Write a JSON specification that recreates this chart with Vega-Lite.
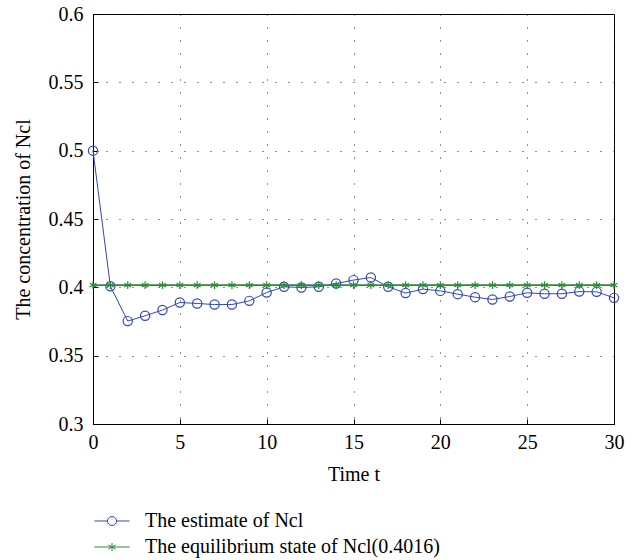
{
  "$schema": "https://vega.github.io/schema/vega-lite/v6.json",
  "width": 521,
  "height": 410,
  "autosize": "none",
  "padding": {"left": 93, "top": 14, "right": 29, "bottom": 136},
  "background": "white",
  "config": {
    "view": {"stroke": "black", "strokeWidth": 1},
    "font": "Liberation Serif",
    "axis": {
      "labelFont": "Liberation Serif",
      "titleFont": "Liberation Serif",
      "labelFontSize": 20,
      "titleFontSize": 20,
      "titleFontWeight": "normal",
      "labelColor": "black",
      "titleColor": "black",
      "domainColor": "black",
      "grid": true,
      "gridColor": "#222",
      "gridDash": [1, 12],
      "gridWidth": 1,
      "ticks": true,
      "tickColor": "black",
      "tickSize": -5
    },
    "legend": {
      "labelFont": "Liberation Serif",
      "labelFontSize": 20,
      "labelColor": "black",
      "labelLimit": 0
    }
  },
  "data": {
    "values": [
      {"t": 0, "v": 0.5, "s": "est"},
      {"t": 1, "v": 0.4008, "s": "est"},
      {"t": 2, "v": 0.3753, "s": "est"},
      {"t": 3, "v": 0.3792, "s": "est"},
      {"t": 4, "v": 0.3834, "s": "est"},
      {"t": 5, "v": 0.3889, "s": "est"},
      {"t": 6, "v": 0.3882, "s": "est"},
      {"t": 7, "v": 0.3874, "s": "est"},
      {"t": 8, "v": 0.3874, "s": "est"},
      {"t": 9, "v": 0.3901, "s": "est"},
      {"t": 10, "v": 0.3962, "s": "est"},
      {"t": 11, "v": 0.4004, "s": "est"},
      {"t": 12, "v": 0.3999, "s": "est"},
      {"t": 13, "v": 0.4004, "s": "est"},
      {"t": 14, "v": 0.4028, "s": "est"},
      {"t": 15, "v": 0.4053, "s": "est"},
      {"t": 16, "v": 0.4072, "s": "est"},
      {"t": 17, "v": 0.4004, "s": "est"},
      {"t": 18, "v": 0.3958, "s": "est"},
      {"t": 19, "v": 0.3987, "s": "est"},
      {"t": 20, "v": 0.3974, "s": "est"},
      {"t": 21, "v": 0.395, "s": "est"},
      {"t": 22, "v": 0.3928, "s": "est"},
      {"t": 23, "v": 0.3911, "s": "est"},
      {"t": 24, "v": 0.3933, "s": "est"},
      {"t": 25, "v": 0.396, "s": "est"},
      {"t": 26, "v": 0.3953, "s": "est"},
      {"t": 27, "v": 0.3953, "s": "est"},
      {"t": 28, "v": 0.3969, "s": "est"},
      {"t": 29, "v": 0.3967, "s": "est"},
      {"t": 30, "v": 0.3923, "s": "est"},
      {"t": 0, "v": 0.4016, "s": "eq"},
      {"t": 1, "v": 0.4016, "s": "eq"},
      {"t": 2, "v": 0.4016, "s": "eq"},
      {"t": 3, "v": 0.4016, "s": "eq"},
      {"t": 4, "v": 0.4016, "s": "eq"},
      {"t": 5, "v": 0.4016, "s": "eq"},
      {"t": 6, "v": 0.4016, "s": "eq"},
      {"t": 7, "v": 0.4016, "s": "eq"},
      {"t": 8, "v": 0.4016, "s": "eq"},
      {"t": 9, "v": 0.4016, "s": "eq"},
      {"t": 10, "v": 0.4016, "s": "eq"},
      {"t": 11, "v": 0.4016, "s": "eq"},
      {"t": 12, "v": 0.4016, "s": "eq"},
      {"t": 13, "v": 0.4016, "s": "eq"},
      {"t": 14, "v": 0.4016, "s": "eq"},
      {"t": 15, "v": 0.4016, "s": "eq"},
      {"t": 16, "v": 0.4016, "s": "eq"},
      {"t": 17, "v": 0.4016, "s": "eq"},
      {"t": 18, "v": 0.4016, "s": "eq"},
      {"t": 19, "v": 0.4016, "s": "eq"},
      {"t": 20, "v": 0.4016, "s": "eq"},
      {"t": 21, "v": 0.4016, "s": "eq"},
      {"t": 22, "v": 0.4016, "s": "eq"},
      {"t": 23, "v": 0.4016, "s": "eq"},
      {"t": 24, "v": 0.4016, "s": "eq"},
      {"t": 25, "v": 0.4016, "s": "eq"},
      {"t": 26, "v": 0.4016, "s": "eq"},
      {"t": 27, "v": 0.4016, "s": "eq"},
      {"t": 28, "v": 0.4016, "s": "eq"},
      {"t": 29, "v": 0.4016, "s": "eq"},
      {"t": 30, "v": 0.4016, "s": "eq"}
    ]
  },
  "encoding": {
    "x": {
      "field": "t", "type": "quantitative",
      "scale": {"domain": [0, 30], "nice": false, "zero": false},
      "axis": {"values": [0, 5, 10, 15, 20, 25, 30], "title": "Time t", "labelFont": "Liberation Serif", "labelFontSize": 20, "labelPadding": 13, "titlePadding": 12, "labelFlush": false}
    },
    "y": {
      "field": "v", "type": "quantitative",
      "scale": {"domain": [0.3, 0.6], "nice": false, "zero": false},
      "axis": {"values": [0.3, 0.35, 0.4, 0.45, 0.5, 0.55, 0.6], "format": ".2~f", "title": "The concentration of Ncl", "labelFont": "Liberation Serif", "labelFontSize": 20, "labelPadding": 15, "titlePadding": 15, "labelFlush": false}
    },
    "color": {
      "field": "s", "type": "nominal",
      "scale": {"domain": ["est", "eq"], "range": ["#3447b0", "#2a8a3a"]},
      "legend": null
    }
  },
  "layer": [
    {
      "transform": [{"filter": "datum.s === 'est'"}],
      "mark": {"type": "line", "strokeWidth": 1},
      "encoding": {
        "color": {
          "field": "s", "type": "nominal",
          "scale": {"domain": ["est", "eq"], "range": ["#3447b0", "#2a8a3a"]},
          "legend": {
            "orient": "none",
            "legendX": 9,
            "legendY": 497,
            "title": null,
            "direction": "vertical",
            "padding": 0,
            "symbolSize": 324,
            "symbolStrokeWidth": 1,
            "symbolFillColor": "transparent",
            "labelFont": "Liberation Serif",
            "labelFontSize": 20,
            "labelLimit": 0,
            "labelOffset": 23,
            "rowPadding": 6,
            "labelExpr": "datum.value === 'est' ? 'The estimate of Ncl' : 'The equilibrium state of Ncl(0.4016)'",
            "encode": {
              "symbols": {
                "update": {
                  "shape": {"signal": "datum.value === 'est' ? 'M-1.95,0L-0.5,0M0.5,0L1.95,0M0.5,0A0.5,0.5 0 1,1 -0.5,0A0.5,0.5 0 1,1 0.5,0' : 'M-1.95,0L1.95,0M0,-0.45L0,0.45M-0.39,-0.225L0.39,0.225M-0.39,0.225L0.39,-0.225'"},
                  "fill": {"value": "transparent"},
                  "strokeWidth": {"value": 1}
                }
              }
            }
          }
        }
      }
    },
    {
      "transform": [{"filter": "datum.s === 'est'"}],
      "mark": {"type": "point", "shape": "circle", "filled": false, "size": 85, "strokeWidth": 1.2, "opacity": 1}
    },
    {
      "transform": [{"filter": "datum.s === 'eq'"}],
      "mark": {"type": "line", "strokeWidth": 1.6}
    },
    {
      "transform": [{"filter": "datum.s === 'eq'"}],
      "mark": {"type": "point", "shape": "M0,-1L0,1M-0.87,-0.5L0.87,0.5M-0.87,0.5L0.87,-0.5", "filled": false, "size": 60, "strokeWidth": 1.2, "opacity": 1}
    }
  ]
}
